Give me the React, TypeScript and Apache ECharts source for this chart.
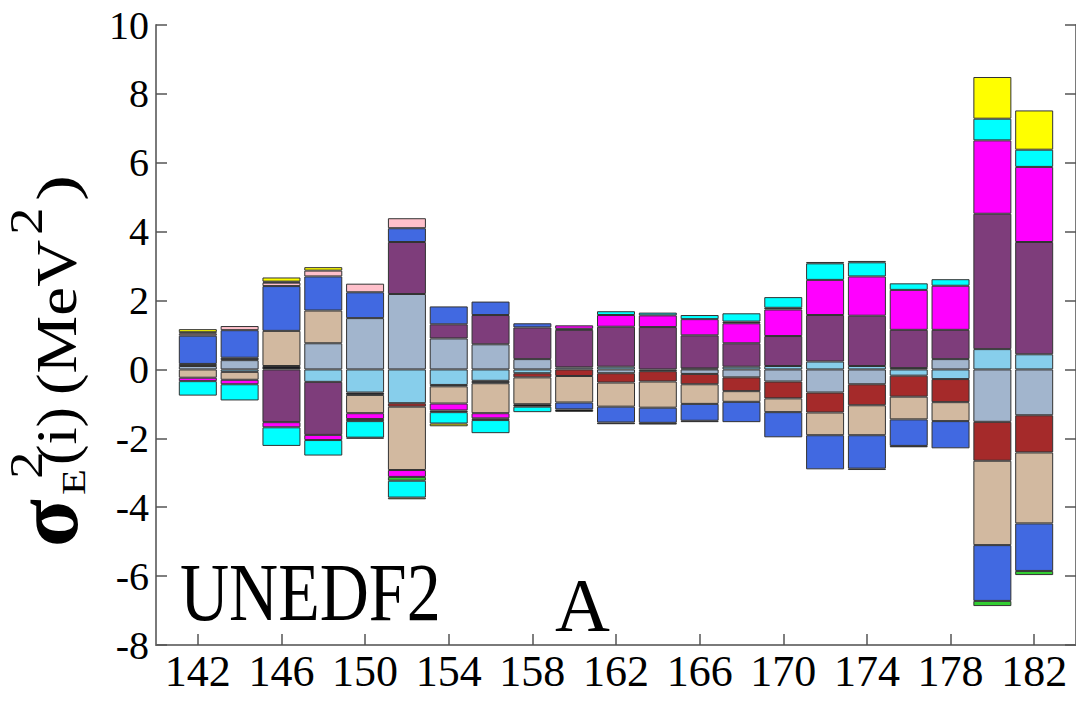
import React, { useEffect, useRef } from 'react';
import * as echarts from 'echarts';

// Mass number A of each bar
const A = [142, 144, 146, 148, 150, 152, 154, 156, 158, 160, 162, 164, 166, 168, 170, 172, 174, 176, 178, 180, 182];
// axis ends (empty slots)
const A_MIN = 140;
const A_MAX = 184;
const X_TICK_LABELS = ['142', '146', '150', '154', '158', '162', '166', '170', '174', '178', '182'];
const Y_MIN = -8;
const Y_MAX = 10;
const Y_STEP = 2;

// contributions sigma_E^2(i) (MeV^2) of each parameter, one array per parameter
const LSB = [0.1, 0.27, 0, 0.76, 1.49, 2.19, 0.9, 0.73, 0.3, 0.06, -0.11, 0, -0.13, -0.23, -0.35, -0.67, -0.43, 0.04, 0.3, -1.52, -1.33];
const SB = [0, -0.07, 0, -0.36, -0.67, -0.98, -0.45, -0.33, -0.11, 0, 0.08, 0, 0, 0.08, 0.1, 0.23, 0.1, -0.18, -0.28, 0.59, 0.44];
const BK1 = [0.06, 0.07, 0.1, 0, -0.07, 0, -0.04, -0.07, 0, 0, 0, -0.05, 0.03, 0, 0, 0, 0, 0, 0, 0, 0];
const BR = [0, 0, 0, 0, 0, -0.1, 0, 0, -0.12, -0.19, -0.27, -0.3, -0.3, -0.4, -0.49, -0.58, -0.61, -0.61, -0.67, -1.13, -1.08];
const TAN = [-0.24, -0.23, 1.02, 0.95, -0.53, -1.84, -0.5, -0.87, -0.78, -0.77, -0.7, -0.76, -0.57, -0.31, -0.4, -0.66, -0.87, -0.66, -0.55, -2.45, -2.06];
const PU = [0, 0, -1.53, -1.54, 0, 1.51, 0.41, 0.85, 0.92, 1.09, 1.16, 1.23, 0.96, 0.68, 0.87, 1.35, 1.46, 1.11, 0.85, 3.93, 3.26];
const BL = [0.82, 0.8, 1.3, 0.99, 0.75, 0.4, 0.52, 0.39, 0.12, -0.2, -0.46, -0.44, -0.49, -0.59, -0.73, -0.99, -0.97, -0.77, -0.79, -1.62, -1.38];
const PK = [0.06, 0.12, 0.1, 0.17, 0.25, 0.29, 0, 0, 0, 0.03, 0, 0, 0, 0, 0, 0, 0, 0, 0, 0, 0];
const MG = [-0.1, -0.13, -0.15, -0.15, -0.17, -0.2, -0.2, -0.15, 0, 0.1, 0.34, 0.34, 0.47, 0.58, 0.77, 1.02, 1.14, 1.16, 1.28, 2.13, 2.18];
const BK2 = [0.04, 0, 0.03, 0, -0.06, 0, -0.05, -0.05, -0.07, -0.07, -0.05, -0.05, -0.04, 0.05, 0.05, 0, -0.04, -0.04, 0, 0, 0];
const GR = [0, 0, 0, 0, 0, -0.11, 0, 0, 0, 0, 0, 0, 0, 0, 0, 0, 0, 0, 0, -0.15, -0.12];
const CY = [-0.42, -0.47, -0.54, -0.45, -0.48, -0.49, -0.33, -0.38, -0.16, 0, 0.11, 0.08, 0.12, 0.24, 0.31, 0.48, 0.41, 0.19, 0.19, 0.63, 0.5];
const YE = [0.09, 0, 0.12, 0.1, -0.03, -0.05, -0.08, 0, 0, 0, 0, 0, 0, 0, 0, 0.04, 0.04, 0, 0, 1.21, 1.14];

const SERIES = [
  { name: 'p1', color: '#a2b5cd', values: LSB },
  { name: 'p2', color: '#87ceeb', values: SB },
  { name: 'p3', color: '#1c1c24', values: BK1 },
  { name: 'p4', color: '#a52a2a', values: BR },
  { name: 'p5', color: '#d2b9a0', values: TAN },
  { name: 'p6', color: '#7e3d7b', values: PU },
  { name: 'p7', color: '#4169e1', values: BL },
  { name: 'p8', color: '#ffc0cb', values: PK },
  { name: 'p9', color: '#ff00ff', values: MG },
  { name: 'p10', color: '#000000', values: BK2 },
  { name: 'p11', color: '#32cd32', values: GR },
  { name: 'p12', color: '#00ffff', values: CY },
  { name: 'p13', color: '#ffff00', values: YE },
];

const SERIF = '"Liberation Serif", "Times New Roman", serif';

export default function App() {
  const ref = useRef<HTMLDivElement>(null);
  useEffect(() => {
    if (!ref.current) return;
    const chart = echarts.init(ref.current, null, { renderer: 'svg' });
    const cats = [String(A_MIN), ...A.map(String), String(A_MAX)];
    const showLabel = (_i: number, v: string) => X_TICK_LABELS.includes(v);
    const axisColor = '#7a7a7a';
    const yAxisCommon = {
      type: 'value',
      min: Y_MIN,
      max: Y_MAX,
      interval: Y_STEP,
      splitLine: { show: false },
      axisLine: { show: true, lineStyle: { color: axisColor, width: 2 } },
      axisTick: { show: true, inside: true, length: 11, lineStyle: { color: '#555', width: 1.5 } },
    };
    const txt = (text: string, x: number, y: number, size: number, sx = 1.25, bold = false) => ({
      type: 'text',
      x,
      y,
      scaleX: sx,
      style: {
        text,
        font: `${bold ? 'bold ' : ''}${size}px ${SERIF}`,
        fill: '#000',
        align: 'left',
        verticalAlign: 'middle',
      },
    });
    chart.setOption({
      animation: false,
      grid: { left: 156, right: 0, top: 25, bottom: 65, containLabel: false },
      xAxis: {
        type: 'category',
        data: cats,
        boundaryGap: false,
        axisLine: { show: true, onZero: false, lineStyle: { color: axisColor, width: 2 } },
        axisTick: { show: true, inside: true, length: 11, interval: showLabel, lineStyle: { color: '#555', width: 1.5 } },
        axisLabel: {
          interval: showLabel,
          color: '#000',
          fontFamily: SERIF,
          fontSize: 44,
          margin: 4,
        },
        splitLine: { show: false },
      },
      yAxis: [
        {
          ...yAxisCommon,
          position: 'left',
          axisLabel: { color: '#000', fontFamily: SERIF, fontSize: 40, margin: 7 },
        },
        {
          ...yAxisCommon,
          position: 'right',
          axisLabel: { show: false },
        },
      ],
      series: SERIES.map((s) => ({
        type: 'bar',
        name: s.name,
        stack: 'total',
        barWidth: 38,
        yAxisIndex: 0,
        silent: true,
        data: [null, ...s.values.map((v) => (v === 0 ? null : v)), null],
        itemStyle: { color: s.color, borderColor: '#333', borderWidth: 1 },
      })),
      graphic: [
        {
          type: 'group',
          x: 0,
          y: 547,
          rotation: Math.PI / 2,
          children: [
            txt('σ', 0, 47, 88, 1, true),
            txt('E', 52, 74, 34),
            txt('2', 68, 27, 46, 1.2),
            txt('(i)', 82, 57, 56, 1.1),
            txt('(MeV', 152, 57, 56, 1.16),
            txt('2', 312, 27, 46, 1.2),
            txt(')', 346, 57, 56, 1.4),
          ],
        },
        {
          type: 'text',
          x: 180,
          y: 592,
          scaleY: 1.2,
          style: { text: 'UNEDF2', font: `68px ${SERIF}`, fill: '#000', align: 'left', verticalAlign: 'middle' },
        },
        {
          type: 'text',
          x: 555,
          y: 605,
          style: { text: 'A', font: `76px ${SERIF}`, fill: '#000', align: 'left', verticalAlign: 'middle' },
        },
      ],
    });
    return () => chart.dispose();
  }, []);
  return <div ref={ref} style={{ position: 'fixed', left: 0, top: 0, width: 1076, height: 710, background: '#fff' }} />;
}
